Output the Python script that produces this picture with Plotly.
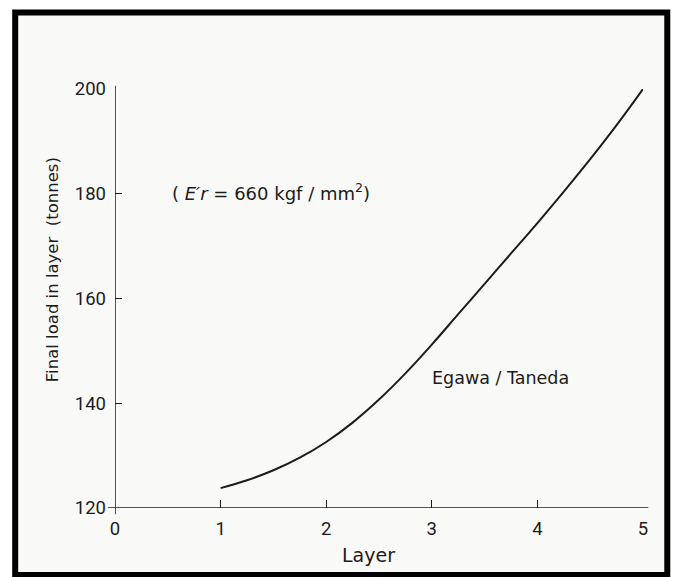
import plotly.graph_objects as go

# Data
layer = [1.0, 1.25, 1.5, 1.75, 2.0, 2.25, 2.5, 2.75, 3.0, 3.25, 3.5, 3.75, 4.0, 4.25, 4.5, 4.75, 5.0]
final_load = [123.8, 125.3, 127.2, 129.6, 132.6, 136.3, 140.7, 145.7, 151.2, 157.0, 162.8, 168.6,
              174.4, 180.4, 186.6, 193.1, 200.0]
x_ticks = [0, 1, 2, 3, 4, 5]
y_ticks = [120, 140, 160, 180, 200]
curve_label = "Egawa / Taneda"
param_label = "( <i>E′r</i> = 660 kgf / mm<sup>2</sup>)"

FONT = "DejaVu Sans"
TICKFONT = "Roboto"
INK = "#1c1c1c"

fig = go.Figure()
fig.add_trace(go.Scatter(x=layer, y=final_load, mode="lines",
                         line=dict(color=INK, width=2, shape="spline", smoothing=1.0),
                         showlegend=False, hoverinfo="skip"))

fig.update_layout(
    width=674, height=577,
    margin=dict(l=115, r=31, t=89, b=69),
    paper_bgcolor="white",
    plot_bgcolor="rgba(0,0,0,0)",
    font=dict(family=FONT, color=INK, size=17),
    xaxis=dict(range=[0, 5], tickvals=x_ticks, ticks="inside", ticklen=8, tickwidth=1.3,
               tickcolor=INK, showgrid=False, zeroline=False, showline=False,
               ticklabelstandoff=7,
               tickfont=dict(family=TICKFONT, size=18.5, color=INK)),
    yaxis=dict(range=[120, 200], tickvals=y_ticks, ticks="inside", ticklen=7, tickwidth=1.3,
               tickcolor=INK, showgrid=False, zeroline=False, showline=False,
               ticklabelstandoff=8,
               tickfont=dict(family=TICKFONT, size=18.5, color=INK)),
    shapes=[
        # scanned page frame
        dict(type="rect", xref="paper", yref="paper", layer="below",
             x0=-0.189, x1=1.046, y0=-0.16, y1=1.1826,
             line=dict(color="black", width=6), fillcolor="#f9f9f8"),
        # axis lines crossing at origin
        dict(type="line", xref="paper", yref="y", x0=-0.013, x1=1.01, y0=120, y1=120,
             line=dict(color=INK, width=1.5)),
        dict(type="line", xref="x", yref="paper", x0=0, x1=0, y0=-0.015, y1=1.008,
             line=dict(color=INK, width=1.5)),
    ],
    annotations=[
        dict(text="Final load in layer  (tonnes)", xref="paper", yref="paper",
             x=-0.119, y=0.568, xanchor="center", yanchor="middle", textangle=-90,
             showarrow=False, font=dict(family=FONT, size=16.5, color=INK)),
        dict(text="Layer", xref="paper", yref="paper", x=0.48, y=-0.112,
             xanchor="center", yanchor="middle", showarrow=False,
             font=dict(family=FONT, size=19, color=INK)),
        dict(text=param_label, xref="x", yref="y", x=0.52, y=180.3, xanchor="left",
             yanchor="middle", showarrow=False, font=dict(family=FONT, size=18, color=INK)),
        dict(text=curve_label, xref="x", yref="y", x=2.98, y=144.8, xanchor="left",
             yanchor="middle", showarrow=False, font=dict(family=FONT, size=17.5, color=INK)),
    ],
)

fig.write_html("out.html")
